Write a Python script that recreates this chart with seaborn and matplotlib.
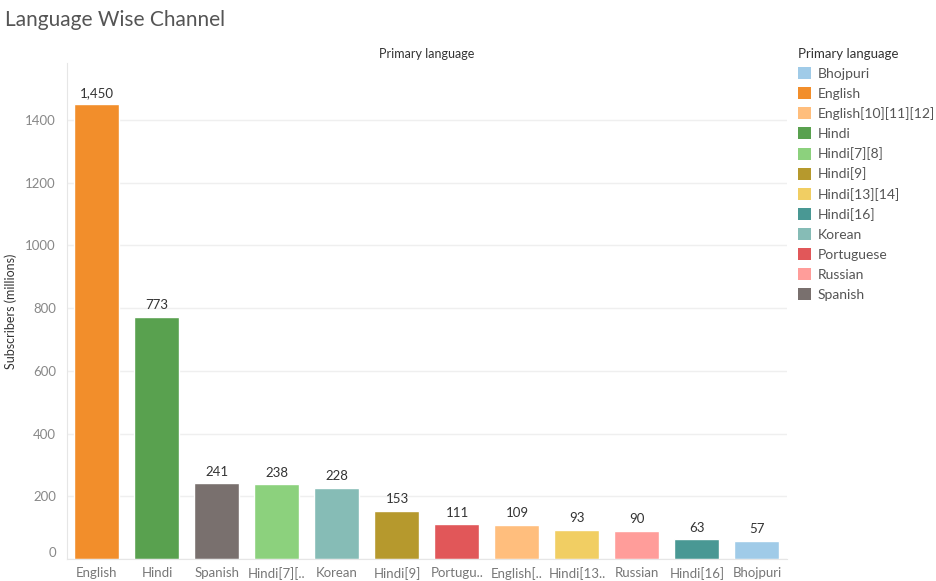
import matplotlib
matplotlib.use('Agg')
import matplotlib.pyplot as plt
from matplotlib.patches import Patch
from matplotlib.transforms import ScaledTranslation
import seaborn as sns
import pandas as pd

# Data
languages = ['English', 'Hindi', 'Spanish', 'Hindi[7][8]', 'Korean', 'Hindi[9]',
             'Portuguese', 'English[10][11][12]', 'Hindi[13][14]', 'Russian',
             'Hindi[16]', 'Bhojpuri']
subscribers = [1450, 773, 241, 238, 228, 153, 111, 109, 93, 90, 63, 57]
tick_labels = ['English', 'Hindi', 'Spanish', 'Hindi[7][..', 'Korean', 'Hindi[9]',
               'Portugu..', 'English[..', 'Hindi[13..', 'Russian', 'Hindi[16]', 'Bhojpuri']
legend_order = ['Bhojpuri', 'English', 'English[10][11][12]', 'Hindi', 'Hindi[7][8]',
                'Hindi[9]', 'Hindi[13][14]', 'Hindi[16]', 'Korean', 'Portuguese',
                'Russian', 'Spanish']
colors = ['#A0CBE8', '#F28E2B', '#FFBE7D', '#59A14F', '#8CD17D', '#B6992D',
          '#F1CE63', '#499894', '#86BCB6', '#E15759', '#FF9D9A', '#79706E']
palette = dict(zip(legend_order, colors))

df = pd.DataFrame({'Primary language': languages, 'Subscribers (millions)': subscribers})

sns.set_style('white')
plt.rcParams['font.family'] = ['Lato', 'DejaVu Sans']

fig = plt.figure(figsize=(9.37, 5.81), dpi=100)
ax = fig.add_axes([67 / 937, 22 / 581, 720 / 937, 496 / 581])

sns.barplot(data=df, x='Primary language', y='Subscribers (millions)',
            hue='Primary language', palette=palette, dodge=False, width=0.75,
            legend=False, ax=ax, saturation=1)

# Value labels
for i, v in enumerate(subscribers):
    ax.text(i, v + 18, '{:,}'.format(v), ha='center', va='bottom',
            fontsize=9.5, color='#333333')

ax.set_ylim(0, 1582)
ax.set_xlim(-0.5, len(languages) - 0.5)
ax.set_yticks(range(0, 1401, 200))
ax.set_yticklabels([str(t) for t in range(0, 1401, 200)])
ax.set_xticks(range(len(languages)))
ax.set_xticklabels(tick_labels)
ax.set_xticks([i + 0.5 for i in range(-1, len(languages))], minor=True)
ax.tick_params(axis='x', which='major', length=0, labelsize=9.5, labelcolor='#777777', pad=6)
ax.tick_params(axis='x', which='minor', length=4, color='#e6e6e6', width=1)
ax.tick_params(axis='y', length=0, labelsize=9.5, labelcolor='#888888', pad=8)
ax.yaxis.grid(True, color='#efefef', linewidth=1)
ax.set_axisbelow(True)

# the "0" label sits a little above the baseline
zero_lbl = ax.get_yticklabels()[0]
zero_lbl.set_transform(zero_lbl.get_transform() + ScaledTranslation(0, 7 / 100, fig.dpi_scale_trans))

for side in ['top', 'right']:
    ax.spines[side].set_visible(False)
for side in ['left', 'bottom']:
    ax.spines[side].set_color('#e6e6e6')

ax.set_xlabel('')
ax.set_ylabel('Subscribers (millions)', fontsize=9, color='#333333', labelpad=10)
ax.yaxis.set_label_coords(-50 / 720, 0.5)

# Header and title
fig.text(427 / 937, 1 - 54 / 581, 'Primary language', ha='center', va='center',
         fontsize=9, color='#333333')
fig.text(5 / 937, 1 - 20 / 581, 'Language Wise Channel', ha='left', va='center',
         fontsize=15, color='#555555')

# Legend
handles = [Patch(facecolor=palette[k], edgecolor='none') for k in legend_order]
leg = fig.legend(handles, legend_order, title='Primary language',
                 loc='upper left', bbox_to_anchor=(798 / 937, 1 - 48 / 581),
                 frameon=False, fontsize=10, title_fontsize=9.5, borderpad=0,
                 handlelength=0.95, handleheight=0.95, handletextpad=0.45,
                 labelspacing=0.52, alignment='left', borderaxespad=0)
for t in leg.get_texts():
    t.set_color('#555555')
leg.get_title().set_color('#333333')

fig.savefig('out.png', dpi=100)
